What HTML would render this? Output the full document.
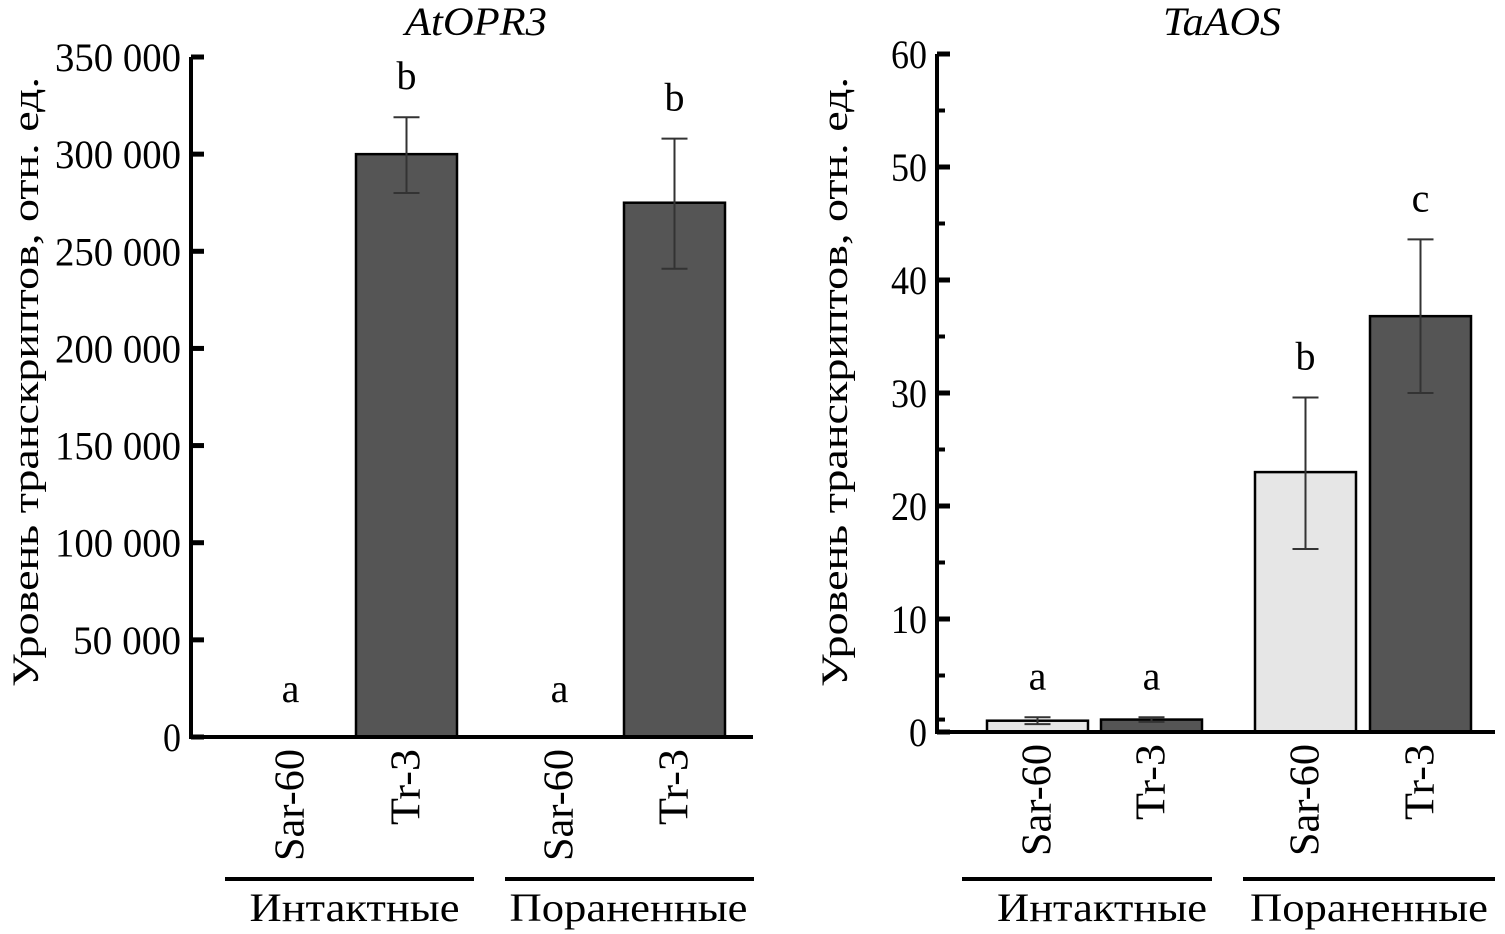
<!DOCTYPE html>
<html><head><meta charset="utf-8"><style>
body{margin:0;background:#fff}
svg{display:block}
text{font-family:"Liberation Serif",serif;fill:#000}
</style></head><body>
<svg id="c" width="1505" height="934" viewBox="0 0 1505 934"></svg>
<script>
const NS="http://www.w3.org/2000/svg";
// Left panel data
const leftCats=["Sar-60","Tr-3","Sar-60","Tr-3"];
const leftVals=[0,300000,0,275000];
const leftLo=[0,280000,0,241000];
const leftHi=[0,319000,0,308000];
const leftLetters=["a","b","a","b"];
const leftTicks=[0,50000,100000,150000,200000,250000,300000,350000];
const leftTickLabels=["0","50 000","100 000","150 000","200 000","250 000","300 000","350 000"];
// Right panel data
const rightCats=["Sar-60","Tr-3","Sar-60","Tr-3"];
const rightVals=[1.0,1.1,23,36.8];
const rightLo=[0.7,0.9,16.2,30];
const rightHi=[1.3,1.3,29.6,43.6];
const rightLetters=["a","a","b","c"];
const rightTicks=[0,10,20,30,40,50,60];
const rightMinor=[1.1,5,15,25,35,45,55];
const groups=["Интактные","Пораненные"];
const fills=["#e6e6e6","#555555","#e6e6e6","#555555"];

const svg=document.getElementById('c');
function el(tag,attrs,parent){const e=document.createElementNS(NS,tag);for(const k in attrs)e.setAttribute(k,attrs[k]);(parent||svg).appendChild(e);return e;}
function txt(s,attrs,parent){const t=el('text',attrs,parent);t.textContent=s;return t;}

function panel(o){
  const g=el('g',{});
  
  
  const y=v=>o.y0-(v-0)/o.max*(o.y0-o.yTop);
  const t=txt(o.title,{x:o.titleX,y:35,'font-size':40,'font-style':'italic','text-anchor':'middle',textLength:o.titleLen,lengthAdjust:'spacingAndGlyphs'},g);
  
  const yt=txt("Уровень транскриптов, отн. ед.",{transform:`translate(${o.ytX},${o.ytY}) rotate(-90)`,'font-size':37,'text-anchor':'middle',textLength:o.ytLen,lengthAdjust:'spacingAndGlyphs'},g);
  
  o.vals.forEach((v,i)=>{
    const x=o.barX[i];
    if(v>0){
      const r=el('rect',{x:x,y:y(v),width:o.bw,height:o.y0-y(v),fill:fills[i],stroke:'#000','stroke-width':2.5},g);
      
      
      const cx=x+o.bw/2;
      const eb=el('path',{d:`M${cx},${y(o.lo[i])}V${y(o.hi[i])}M${cx-13},${y(o.hi[i])}H${cx+13}M${cx-13},${y(o.lo[i])}H${cx+13}`,stroke:'#333','stroke-width':2,fill:'none'},g);
      
    }
    const ly=v>0?y(o.hi[i])-28:o.letterY;
    const l=txt(o.letters[i],{x:x+o.bw/2,y:ly,'font-size':40,'text-anchor':'middle'},g);
    
    const c=txt(o.cats[i],{transform:`translate(${x+o.bw/2+13},${o.y0+12}) rotate(-90)`,'font-size':42,'text-anchor':'end',textLength:o.cats[i].length>4?112:76,lengthAdjust:'spacingAndGlyphs'},g);
    
  });
  const ax=el('path',{d:`M${o.ax},${o.yTop}V${o.y0}H${o.axEnd}`,stroke:'#000','stroke-width':4,fill:'none'},g);
  
  o.ticks.forEach((v,i)=>{
    el('path',{d:`M${o.ax},${y(v)}H${o.ax+13}`,stroke:'#000','stroke-width':5},g);
    const tl=txt(o.tickLabels[i],{x:o.ax-10,y:y(v)+14,'font-size':40,'text-anchor':'end',textLength:o.tickLabels[i].length*18,lengthAdjust:'spacingAndGlyphs'},g);
    
  });
  (o.minor||[]).forEach(v=>el('path',{d:`M${o.ax},${y(v)}H${o.ax+8}`,stroke:'#000','stroke-width':4},g));
  o.groupLines.forEach((gl,i)=>{
    const ln=el('path',{d:`M${gl[0]},879H${gl[1]}`,stroke:'#000','stroke-width':4},g);
    
    const gt=txt(groups[i],{x:(gl[0]+gl[1])/2+o.gOff[i],y:921,'font-size':40,'text-anchor':'middle',textLength:i==0?210:238,lengthAdjust:'spacingAndGlyphs'},g);
    
  });
}
panel({name:'left-chart',title:'AtOPR3',titleX:476,titleLen:142,cats:leftCats,vals:leftVals,lo:leftLo,hi:leftHi,letters:leftLetters,
 ticks:leftTicks,tickLabels:leftTickLabels,max:350000,y0:737,yTop:57,ax:191,axEnd:753,barX:[240,356,509,624],bw:101,letterY:702,
 ytX:38,ytY:382,ytLen:610,groupLines:[[225,474],[505,754]],gOff:[5,-1]});
panel({name:'right-chart',title:'TaAOS',titleX:1222,titleLen:118,cats:rightCats,vals:rightVals,lo:rightLo,hi:rightHi,letters:rightLetters,
 ticks:rightTicks,tickLabels:rightTicks.map(String),minor:rightMinor,max:60,y0:732,yTop:54,ax:937,axEnd:1495,barX:[987,1101,1255,1370],bw:101,letterY:682,
 ytX:847,ytY:382,ytLen:610,groupLines:[[962,1212],[1243,1495]],gOff:[15,0]});
</script>
</body></html>
